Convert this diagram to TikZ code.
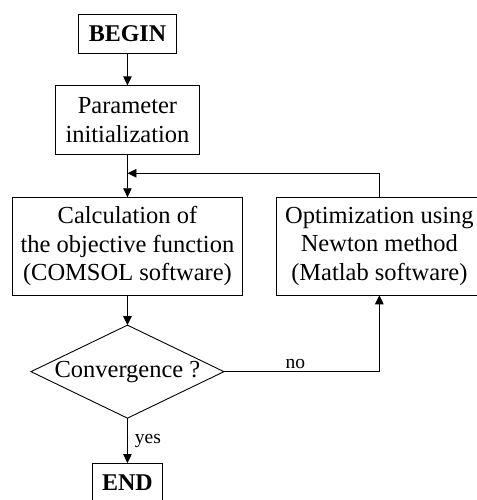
\documentclass[tikz,border=0pt]{standalone}
\usepackage{fontspec}
\setmainfont{Liberation Serif}
\usetikzlibrary{matrix,shapes.geometric,arrows.meta}

\begin{document}
\begin{tikzpicture}[x=1pt, y=-1pt, ampersand replacement=\&,
    line width=0.9pt,
    box/.style={draw, rectangle, align=center, inner sep=0pt,
      minimum height=98pt, font=\fontsize{24.5}{28.5}\selectfont},
    term/.style={draw, rectangle, inner sep=0pt, minimum width=#1,
      minimum height=39pt, font=\fontsize{24}{28.5}\selectfont\bfseries},
    test/.style={draw, diamond, aspect=2.07, inner sep=0pt,
      minimum width=193pt, minimum height=93pt,
      font=\fontsize{24.5}{28.5}\selectfont},
    lbl/.style={font=\fontsize{19.5}{21}\selectfont, inner sep=2pt}]
    \useasboundingbox (0,0) rectangle (476,500);
    \matrix (m) [anchor=north west,
    inner sep=0pt, outer sep=0pt,
    row sep=31pt, column sep=33.5pt,
    nodes={anchor=center, outer sep=0pt}] at (12,14) {
    \node[term=98pt] (begin) {BEGIN};                        \& \\
    \node[box, minimum width=143pt, minimum height=69pt] (init)
      {Parameter\\initialization};                           \& \\[11pt]
    \node[box, minimum width=230pt] (calc)
      {Calculation of\\the objective function\\(COMSOL software)};
      \& \node[box, minimum width=205pt] (newton)
      {Optimization using\\Newton method\\(Matlab software)}; \\[-2pt]
    \node[test] (conv) {Convergence ?};                      \& \\[13pt]
    \node[term=70pt] (end) {END};                            \& \\
    };
    \coordinate (join) at ([yshift=24pt]calc.north);
    \path[-{Triangle[length=9pt, width=8.5pt]}]
    (begin) edge (init)
    (init)  edge (calc)
    (calc)  edge (conv)
    (conv)  edge node[lbl, right, xshift=5pt] (lyes) {yes} (end);
    \draw[-{Triangle[length=9pt, width=8.5pt]}]
      (newton.north) |- (join);
    \draw[-{Triangle[length=9pt, width=8.5pt]}]
      (conv.east) -| node[lbl, above, pos=0.23, inner sep=3pt] (lno) {no}
      (newton.south);
\end{tikzpicture}
\end{document}
